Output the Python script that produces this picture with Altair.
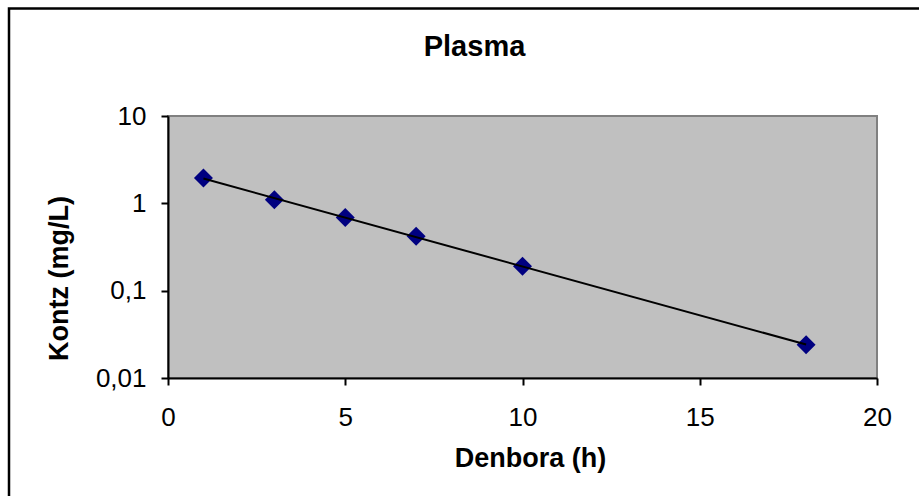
import altair as alt
import pandas as pd

# Data
time_h = [1, 3, 5, 7, 10, 18]
conc_mg_l = [1.95, 1.1, 0.69, 0.42, 0.19, 0.024]

x_ticks = [0, 5, 10, 15, 20]
y_ticks = [0.01, 0.1, 1, 10]

df = pd.DataFrame({"t": time_h, "c": conc_mg_l})

FONT = "Liberation Sans"

x_enc = alt.X(
    "t:Q",
    scale=alt.Scale(domain=[0, 20], nice=False, zero=False),
    axis=alt.Axis(
        values=x_ticks,
        title="Denbora (h)",
        grid=False,
        domainColor="black",
        domainWidth=2,
        tickColor="black",
        tickWidth=2,
        tickSize=7,
        labelFont=FONT,
        labelFontSize=26,
        labelColor="black",
        labelBaseline="alphabetic",
        labelPadding=40,
        labelFlush=False,
        titleFont=FONT,
        titleFontSize=27,
        titleFontWeight="bold",
        titleColor="black",
        titleBaseline="alphabetic",
        titleX=362,
        titleY=88,
        zindex=1,
    ),
)

y_enc = alt.Y(
    "c:Q",
    scale=alt.Scale(type="log", domain=[0.01, 10], nice=False),
    axis=alt.Axis(
        values=y_ticks,
        title="Kontz  (mg/L)",
        grid=False,
        domainColor="black",
        domainWidth=2,
        tickColor="black",
        tickWidth=2,
        tickSize=7,
        labelFont=FONT,
        labelFontSize=26,
        labelColor="black",
        labelPadding=15,
        labelFlush=False,
        labelBaseline="middle",
        labelExpr="datum.value >= 1 ? format(datum.value, 'd') : replace(toString(datum.value), '.', ',')",
        titleFont=FONT,
        titleFontSize=27,
        titleFontWeight="bold",
        titleColor="black",
        titleAngle=-90,
        titleBaseline="middle",
        titleAlign="center",
        titleX=-109,
        titleY=162,
        zindex=1,
    ),
)

base = alt.Chart(df)

points = base.mark_point(
    shape="diamond", filled=True, size=360, color="#000080", opacity=1
).encode(x=x_enc, y=y_enc)

trend = (
    base.transform_calculate(ly="log(datum.c) / LN10")
    .transform_regression("t", "ly", method="linear")
    .transform_calculate(c="pow(10, datum.ly)")
    .mark_line(color="black", strokeWidth=2)
    .encode(x="t:Q", y="c:Q")
)

frame = (
    alt.Chart(alt.Data(values=[{}]))
    .mark_rect(filled=False, stroke="black", strokeWidth=2.5, fill=None)
    .encode(
        x=alt.value(-159),
        x2=alt.value(800),
        y=alt.value(-107.5),
        y2=alt.value(420),
    )
)

chart = (
    alt.layer(frame, points, trend)
    .properties(
        width=709,
        height=262,
        autosize=alt.AutoSizeParams(type="none"),
        padding={"left": 168, "top": 116, "right": 42, "bottom": 118},
        title=alt.TitleParams(
            "Plasma",
            font=FONT,
            fontSize=29,
            fontWeight="bold",
            color="black",
            anchor="middle",
            frame="group",
            baseline="alphabetic",
            dx=-48,
            offset=-78,
        ),
        background="white",
    )
    .configure_view(fill="#C0C0C0", stroke="#808080", strokeWidth=2)
)

chart.save("out.html", embed_options={"renderer": "svg", "actions": False})
